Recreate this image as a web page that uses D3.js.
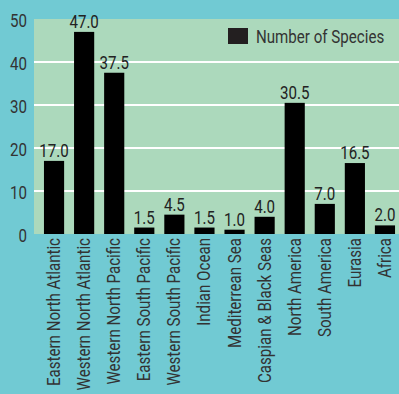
<!DOCTYPE html>
<html>
<head>
<meta charset="utf-8">
<script src="https://cdn.jsdelivr.net/npm/d3@7"></script>
<style>
  html, body { margin: 0; padding: 0; background: #71cad3; }
  svg { display: block; }
</style>
</head>
<body>
<div id="chart"></div>
<script>
// Species counts by region — simple bar chart
const regions = [
    'Eastern North Atlantic', 'Western North Atlantic', 'Western North Pacific',
    'Eastern South Pacific', 'Western South Pacific', 'Indian Ocean',
    'Mediterrean Sea', 'Caspian & Black Seas', 'North America',
    'South America', 'Eurasia', 'Africa'
];
const species = [17.0, 47.0, 37.5, 1.5, 4.5, 1.5, 1.0, 4.0, 30.5, 7.0, 16.5, 2.0];
const yTicks = [0, 10, 20, 30, 40, 50];
const seriesName = 'Number of Species';

const width = 399;
const height = 394;
const plot = { left: 34, right: 399, top: 19, bottom: 234 };
const font = 'Roboto, "Liberation Sans", sans-serif';
const squeeze = 0.84; // condensed look

const svg = d3.select('#chart').append('svg')
    .attr('width', width)
    .attr('height', height);

svg.append('rect')
    .attr('width', width).attr('height', height)
    .attr('fill', '#71cad3');

// plot area
svg.append('rect')
    .attr('x', plot.left).attr('y', plot.top)
    .attr('width', plot.right - plot.left)
    .attr('height', plot.bottom - plot.top)
    .attr('fill', '#acd9bc');

const x = d3.scaleBand()
    .domain(regions)
    .range([39, 400])
    .paddingInner(0.33)
    .paddingOuter(0.165);

const y = d3.scaleLinear()
    .domain([0, 50])
    .range([plot.bottom, plot.top]);

// gridlines
svg.append('g')
    .selectAll('line')
    .data(yTicks.filter(d => d > 0 && d < 50))
    .enter().append('line')
    .attr('x1', plot.left).attr('x2', plot.right)
    .attr('y1', d => y(d)).attr('y2', d => y(d))
    .attr('stroke', '#fff')
    .attr('stroke-width', 2);

// y tick labels
svg.append('g')
    .selectAll('text')
    .data(yTicks)
    .enter().append('text')
    .attr('transform', d => `translate(27,${y(d) + 8}) scale(${squeeze},1)`)
    .attr('text-anchor', 'end')
    .attr('fill', '#333')
    .attr('font-family', font)
    .attr('font-size', '18px')
    .text(d => d);

// bars
svg.append('g')
    .selectAll('rect')
    .data(species)
    .enter().append('rect')
    .attr('x', (d, i) => x(regions[i]))
    .attr('y', d => y(d))
    .attr('width', x.bandwidth())
    .attr('height', d => y(0) - y(d))
    .attr('fill', '#000');

// value labels
svg.append('g')
    .selectAll('text')
    .data(species)
    .enter().append('text')
    .attr('transform', (d, i) => `translate(${x(regions[i]) + x.bandwidth() / 2},${y(d) - 4}) scale(${squeeze},1)`)
    .attr('text-anchor', 'middle')
    .attr('fill', '#222')
    .attr('font-family', font)
    .attr('font-size', '18px')
    .text(d => d.toFixed(1));

// category labels (rotated)
svg.append('g')
    .selectAll('text')
    .data(regions)
    .enter().append('text')
    .attr('transform', d => `translate(${x(d) + x.bandwidth() / 2 + 6},${plot.bottom + 4}) rotate(-90) scale(${squeeze},1)`)
    .attr('text-anchor', 'end')
    .attr('fill', '#333')
    .attr('font-family', font)
    .attr('font-size', '18px')
    .text(d => d);

// legend
svg.append('rect')
    .attr('x', 228).attr('y', 28)
    .attr('width', 20).attr('height', 16)
    .attr('fill', '#231f20');

svg.append('text')
    .attr('transform', `translate(256,43) scale(${squeeze},1)`)
    .attr('fill', '#333')
    .attr('font-family', font)
    .attr('font-size', '18px')
    .text(seriesName);
</script>
</body>
</html>
